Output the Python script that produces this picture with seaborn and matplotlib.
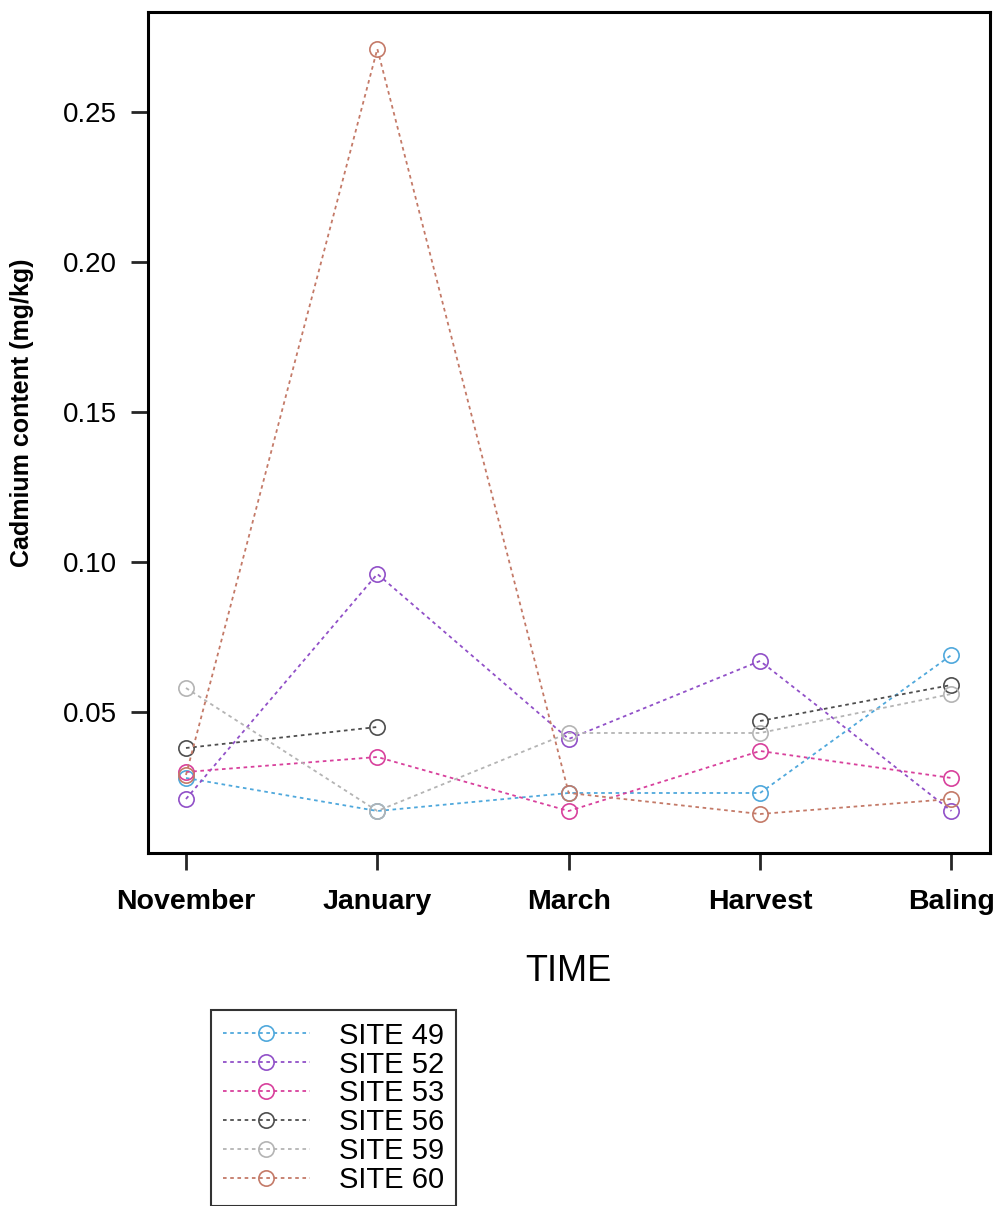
import numpy as np
import pandas as pd
import matplotlib
matplotlib.use("Agg")
import matplotlib.pyplot as plt
import seaborn as sns

# sampling times and cadmium content (mg/kg) per site
times = ["November", "January", "March", "Harvest", "Baling"]
site49 = [0.028, 0.017, 0.023, 0.023, 0.069]
site52 = [0.021, 0.096, 0.041, 0.067, 0.017]
site53 = [0.030, 0.035, 0.017, 0.037, 0.028]
site56 = [0.038, 0.045, np.nan, 0.047, 0.059]
site59 = [0.058, 0.017, 0.043, 0.043, 0.056]
site60 = [0.029, 0.271, 0.023, 0.016, 0.021]

sites = ["SITE 49", "SITE 52", "SITE 53", "SITE 56", "SITE 59", "SITE 60"]
values = [site49, site52, site53, site56, site59, site60]
colors = ["#4fa8dc", "#9150c8", "#d8409c", "#4e4e4e", "#b4b4b4", "#c47a68"]

rows = []
for name, vals in zip(sites, values):
    seg = 0
    for i, v in enumerate(vals):
        if np.isnan(v):
            seg += 1  # break the line at a missing value
            continue
        rows.append({"site": name, "pos": i, "cd": v, "seg": seg})
df = pd.DataFrame(rows)

sns.set_style("ticks")
plt.rcParams["font.family"] = ["Liberation Sans", "DejaVu Sans"]

fig = plt.figure(figsize=(9.98, 12.06), dpi=100)
ax = fig.add_axes([0.148, 1 - 853 / 1206, (990 - 148) / 998, (853 - 12) / 1206])

sns.lineplot(data=df, x="pos", y="cd", hue="site", units="seg", estimator=None,
             palette=dict(zip(sites, colors)), hue_order=sites, marker="o",
             markersize=11, markerfacecolor="none", markeredgewidth=1.2,
             linewidth=1.3, linestyle=(0, (2, 2)), ax=ax, legend=True)

# make marker edges match line colours
for line in ax.lines:
    line.set_markeredgecolor(line.get_color())
    line.set_markerfacecolor("none")

ax.set_xlim(-0.2, 4.2)
ax.set_ylim(0.003, 0.2833)
ax.set_xticks(range(len(times)))
ax.set_xticklabels(times, fontsize=20.5, fontweight="bold", color="black")
ax.set_yticks([0.05, 0.10, 0.15, 0.20, 0.25])
ax.set_yticklabels(["0.05", "0.10", "0.15", "0.20", "0.25"], fontsize=20, color="black")
ax.tick_params(axis="x", length=12, width=2, direction="out", pad=14)
ax.tick_params(axis="y", length=12, width=2, direction="out", pad=10)
for s in ax.spines.values():
    s.set_linewidth(2.2)
    s.set_color("black")

ax.set_xlabel("TIME", fontsize=26, labelpad=28, color="black")
ax.set_ylabel("Cadmium content (mg/kg)", fontsize=18, fontweight="bold", color="black")
ax.yaxis.set_label_coords(-0.135, 0.523)

handles, labels = ax.get_legend_handles_labels()
ax.get_legend().remove()
for h in handles:
    h.set_markerfacecolor("none")
    h.set_markeredgecolor(h.get_color())
    h.set_linestyle((0, (2, 2)))
leg = fig.legend(handles, labels, loc="upper left",
                 bbox_to_anchor=(211 / 998, 1 - 1010 / 1206), borderaxespad=0,
                 fontsize=21, labelspacing=0.03, handlelength=3.0,
                 handletextpad=1.0, borderpad=0.4, frameon=True, fancybox=False,
                 labelcolor="black")
leg.get_frame().set_edgecolor("black")
leg.get_frame().set_linewidth(1.5)

fig.savefig("out.png", dpi=100)
